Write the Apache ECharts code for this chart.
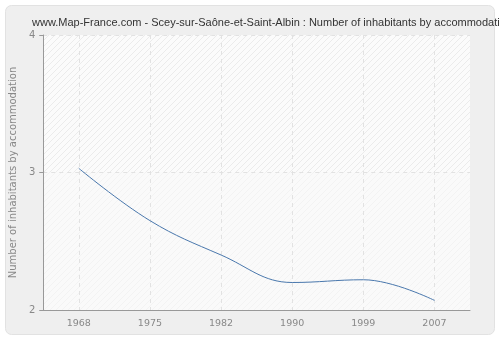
<!DOCTYPE html>
<html><head><meta charset="utf-8">
<script src="https://cdn.jsdelivr.net/npm/echarts@6/dist/echarts.min.js"></script>
<style>html,body{margin:0;padding:0;background:#fff}#c{width:500px;height:340px}</style>
</head><body><div id="c"></div>
<script>
const titleText = 'www.Map-France.com - Scey-sur-Saône-et-Saint-Albin : Number of inhabitants by accommodation';
const yAxisName = 'Number of inhabitants by accommodation';
const years = ['1968', '1975', '1982', '1990', '1999', '2007'];
const values = [3.03, 2.65, 2.40, 2.20, 2.22, 2.07];
const yTicks = [2, 3, 4];

function hatch(bg, line) {
  const c = document.createElement('canvas');
  c.width = 6; c.height = 6;
  const g = c.getContext('2d');
  g.fillStyle = bg; g.fillRect(0, 0, 6, 6);
  g.strokeStyle = line; g.lineWidth = 1;
  g.beginPath();
  g.moveTo(0, 6); g.lineTo(6, 0);
  g.moveTo(-3, 3); g.lineTo(3, -3);
  g.moveTo(3, 9); g.lineTo(9, 3);
  g.stroke();
  return { image: c, repeat: 'repeat' };
}

const chart = echarts.init(document.getElementById('c'), null, { renderer: 'canvas' });
chart.setOption({
  animation: false,
  backgroundColor: '#fff',
  graphic: [{
    type: 'rect', z: -10, silent: true,
    shape: { x: 5.5, y: 5.5, width: 489, height: 329, r: 6 },
    style: { fill: '#efefef', stroke: '#e2e2e2', lineWidth: 1 }
  }],
  title: {
    text: titleText, left: 27, top: 12,
    textStyle: { fontFamily: 'Liberation Sans', fontSize: 11, fontWeight: 'normal', color: '#333' }
  },
  grid: { left: 40, right: 30, top: 35, bottom: 30, show: true, backgroundColor: '#fafafa', borderWidth: 0 },
  xAxis: {
    type: 'category', data: years, boundaryGap: true,
    axisLine: { lineStyle: { color: '#999' } },
    axisTick: { alignWithLabel: true, length: 5, lineStyle: { color: '#999' } },
    axisLabel: { color: '#888', fontFamily: 'DejaVu Sans', fontSize: 9.5, margin: 9 },
    splitLine: { show: true, alignWithLabel: true, lineStyle: { color: '#e2e2e2', type: [4, 4] } }
  },
  yAxis: {
    type: 'value', min: yTicks[0], max: yTicks[yTicks.length - 1], interval: 1,
    name: yAxisName, nameLocation: 'middle', nameGap: 24,
    nameTextStyle: { color: '#888', fontFamily: 'DejaVu Sans', fontSize: 10 },
    axisLine: { show: true, lineStyle: { color: '#999' } },
    axisTick: { show: true, length: 4, lineStyle: { color: '#999' } },
    axisLabel: { color: '#888', fontFamily: 'DejaVu Sans', fontSize: 10, margin: 8 },
    splitLine: { show: true, lineStyle: { color: '#e2e2e2', type: [4, 4] } },
    splitArea: { show: true, areaStyle: { color: [hatch('#fafafa', '#f3f3f3'), hatch('#fbfbfb', '#ebebeb')] } }
  },
  series: [{
    type: 'line', data: values, smooth: 0.4, symbol: 'none',
    lineStyle: { color: '#4a78ad', width: 1 }
  }]
});
</script></body></html>
